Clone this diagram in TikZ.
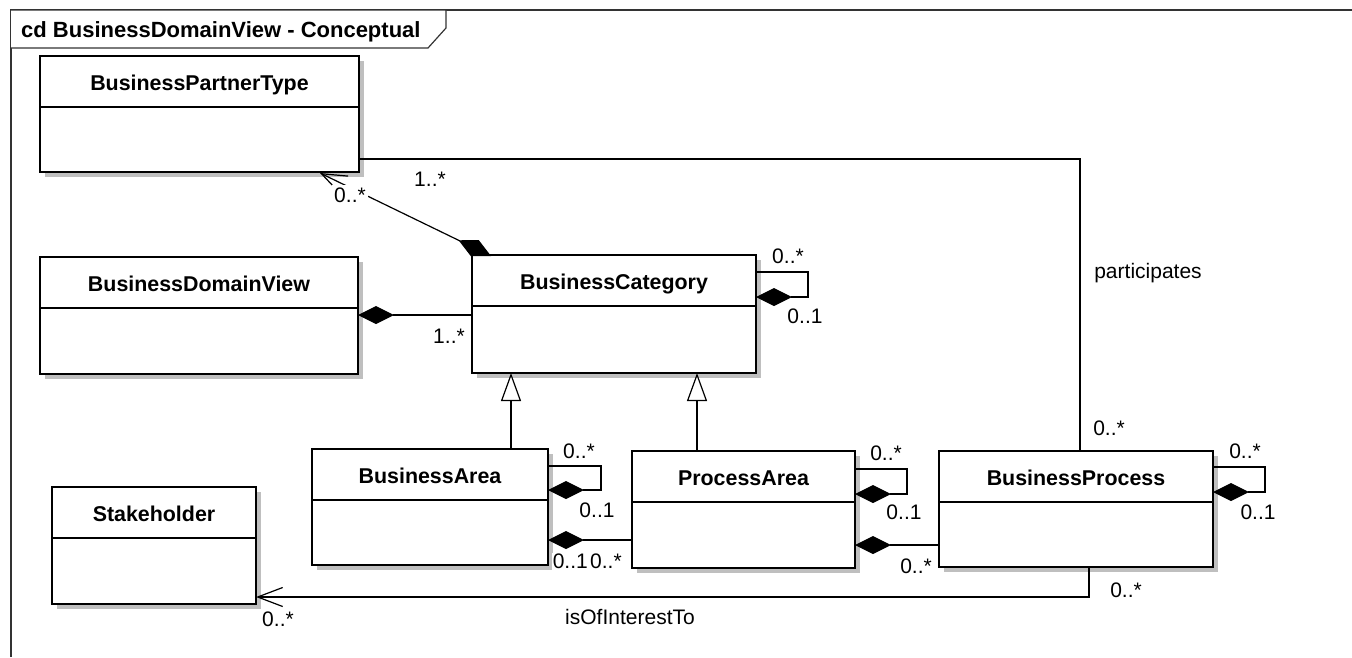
\documentclass[tikz,border=0pt]{standalone}
\usepackage{fontspec}
\setmainfont{Liberation Sans}
\usetikzlibrary{arrows.meta,calc,shadows}

% A UML class: name, x, y (top left), width, height, title
\newcommand{\umlclass}[6]{%
  \node[classbox, minimum width=#4pt, minimum height=#5pt] (#1) at (#2,#3) {};
  \node[classname] (#1-title) at ($(#1.north)+(0,27)$) {#6};
  \draw[classline] ($(#1.north west)+(0,51)$) -- ($(#1.north east)+(0,51)$);
}

\begin{document}
\begin{tikzpicture}[x=1pt,y=-1pt,
  every node/.style={font=\fontsize{21}{24}\selectfont},
  classbox/.style={draw, fill=white, line width=1.6pt, inner sep=0pt, outer sep=0pt,
    anchor=north west,
    drop shadow={shadow xshift=5pt, shadow yshift=-5pt, fill=black!25, opacity=1}},
  classname/.style={font=\fontsize{21.4}{24}\selectfont\bfseries, inner sep=0pt,
    text height=15pt, text depth=0pt},
  classline/.style={line width=1.3pt},
  assoc/.style={line width=1.2pt},
  comp/.style={assoc, -{Diamond[length=36pt,width=18pt]}},
  gen/.style={assoc, -{Triangle[open,length=28pt,width=20pt,fill=white]}},
  navi/.style={assoc, -{Straight Barb[length=25pt,width=19pt]}},
  mult/.style={fill=white, inner sep=2.5pt, text height=15pt, text depth=0pt},
  frameline/.style={line width=1.2pt, draw=black!80}
]
\useasboundingbox (0,0) rectangle (1352,657);

% diagram frame and its title tab
\draw[frameline] (11,657) -- (11,10) -- (1352,10);
\draw[frameline, fill=white] (11,10) -- (446,10) -- (446,28) -- (428,48) -- (11,48);
\node[anchor=west, inner sep=0pt, text height=15pt, text depth=0pt,
  font=\fontsize{22}{24}\selectfont\bfseries] (frame-title) at (21,29.5)
  {cd BusinessDomainView - Conceptual};

% classes
\umlclass{bpt}{40}{56}{319}{116}{BusinessPartnerType}
\umlclass{bdv}{40}{257}{318}{117}{BusinessDomainView}
\umlclass{bc}{472}{255}{284}{118}{BusinessCategory}
\umlclass{ba}{312}{449}{236}{116}{BusinessArea}
\umlclass{pa}{632}{451}{223}{117}{ProcessArea}
\umlclass{bp}{939}{451}{274}{116}{BusinessProcess}
\umlclass{sh}{52}{487}{204}{117}{Stakeholder}

% participates: BusinessPartnerType -- BusinessProcess
\draw[assoc] ($(bpt.north east)+(0,103)$) -| ($(bp.north west)+(141,0)$);
\node[mult] (m-bpt-bp) at (430,179) {1..*};
\node[mult] (m-bp-bpt) at (1109,428) {0..*};
\node[mult] (lbl-participates) at (1148,270.5) {participates};

% BusinessCategory composes BusinessPartnerType
\draw[navi, {Straight Barb[length=25pt,width=19pt]}-{Diamond[length=36pt,width=18pt]}]
  ($(bpt.south west)+(280,1)$) -- ($(bc.north west)+(19,1)$);
\node[mult] (m-bc-bpt) at (350,195) {0..*};

% BusinessDomainView composes BusinessCategory
\draw[comp] ($(bc.north west)+(0,60)$) -- ($(bdv.north east)+(0,58)$);
\node[mult] (m-bdv-bc) at (449,336) {1..*};

% BusinessCategory self composition
\draw[comp] ($(bc.north east)+(0,17)$) -- ++(52,0) -- ++(0,25) -- ($(bc.north east)+(0,42)$);
\node[mult] (m-bc-a) at (788,256) {0..*};
\node[mult] (m-bc-b) at (805,316) {0..1};

% generalizations
\draw[gen] ($(ba.north west)+(199,0)$) -- ($(bc.south west)+(39,0)$);
\draw[gen] ($(pa.north west)+(65,0)$) -- ($(bc.south west)+(225,0)$);

% BusinessArea self composition
\draw[comp] ($(ba.north east)+(0,17)$) -- ++(53,0) -- ++(0,24) -- ($(ba.north east)+(0,41)$);
\node[mult] (m-ba-a) at (579,451) {0..*};
\node[mult] (m-ba-b) at (597,510) {0..1};

% BusinessArea composes ProcessArea
\draw[comp] ($(pa.north west)+(0,89)$) -- ($(ba.north east)+(0,91)$);
\node[mult, anchor=east, inner sep=1pt] (m-ba-pa) at (589,561) {0..1};
\node[mult, anchor=west, inner sep=1pt] (m-pa-ba) at (589,561) {0..*};

% ProcessArea self composition
\draw[comp] ($(pa.north east)+(0,18)$) -- ++(52,0) -- ++(0,25) -- ($(pa.north east)+(0,43)$);
\node[mult] (m-pa-a) at (886,453) {0..*};
\node[mult] (m-pa-b) at (904,512) {0..1};

% ProcessArea composes BusinessProcess
\draw[comp] ($(bp.north west)+(0,94)$) -- ($(pa.north east)+(0,94)$);
\node[mult] (m-pa-bp) at (916,566) {0..*};

% BusinessProcess self composition
\draw[comp] ($(bp.north east)+(0,16)$) -- ++(52,0) -- ++(0,25) -- ($(bp.north east)+(0,41)$);
\node[mult] (m-bp-a) at (1245,451) {0..*};
\node[mult] (m-bp-b) at (1258,512) {0..1};

% isOfInterestTo: BusinessProcess -- Stakeholder
\draw[navi] ($(bp.south west)+(150,0)$) |- ($(sh.north east)+(0,110)$);
\node[mult] (m-bp-sh) at (1126,590) {0..*};
\node[mult] (m-sh-bp) at (278,619) {0..*};
\node[mult] (lbl-interest) at (630,617) {isOfInterestTo};

\end{tikzpicture}
\end{document}
